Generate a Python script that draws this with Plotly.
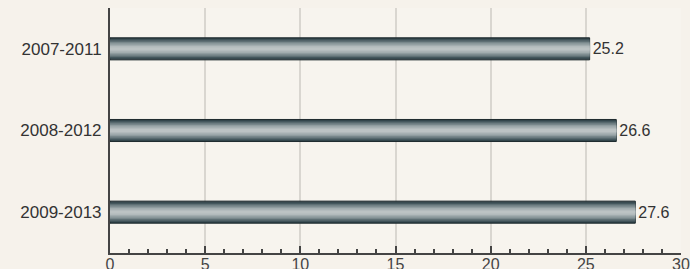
import plotly.graph_objects as go

periods = ["2007-2011", "2008-2012", "2009-2013"]
values = [25.2, 26.6, 27.6]
x_ticks = [0, 5, 10, 15, 20, 25, 30]

# layers for cylindrical shading: from outer (dark) to inner (light)
shade_colors = ["#2e4147", "#44575d", "#5e6f74", "#78878b", "#8f9c9f", "#a2adaf", "#b2babc", "#bcc3c4"]
bar_width = 0.27
FONT = "Liberation Sans, Arial, sans-serif"

fig = go.Figure()
n = len(shade_colors)
for k, c in enumerate(shade_colors):
    w = bar_width * (1 - k / n)
    first = k == 0
    fig.add_trace(go.Bar(
        y=periods, x=values, orientation="h",
        width=[w] * len(periods),
        marker=dict(color=c, line=dict(color="#1e2a2e", width=1 if first else 0)),
        text=[f"{v:.1f}" for v in values] if first else None,
        textposition="outside" if first else "none",
        textfont=dict(size=16, color="#333333", family=FONT),
        cliponaxis=False,
        hoverinfo="skip" if not first else None,
        showlegend=False,
    ))

fig.update_layout(
    width=690, height=269,
    barmode="overlay",
    paper_bgcolor="#f6f2eb",
    plot_bgcolor="#f7f4ee",
    margin=dict(l=110, r=9, t=8, b=16),
    font=dict(family=FONT, size=16, color="#333333"),
    xaxis=dict(
        range=[0, 30], tickvals=x_ticks, ticktext=[str(t) for t in x_ticks],
        tickfont=dict(size=16, color="#444444"),
        showgrid=True, gridcolor="#d9d6d0", gridwidth=2,
        showline=True, linecolor="#444444", linewidth=2,
        ticks="inside", ticklen=7, tickcolor="#444444", tickwidth=2,
        minor=dict(dtick=1, ticks="inside", ticklen=4, tickcolor="#444444", tickwidth=2, showgrid=False),
        zeroline=False, automargin=False, fixedrange=True,
        ticklabelstandoff=-4,
    ),
    yaxis=dict(
        categoryorder="array", categoryarray=periods, autorange="reversed",
        tickfont=dict(size=17, color="#333333"),
        showline=True, linecolor="#444444", linewidth=2,
        showgrid=False, ticks="", ticklabelstandoff=3,
        automargin=False, fixedrange=True,
    ),
)

fig.write_html(
    "out.html",
    config={"displayModeBar": False},
    post_script="document.body.style.margin='0';document.body.style.background='#f6f2eb';",
)
